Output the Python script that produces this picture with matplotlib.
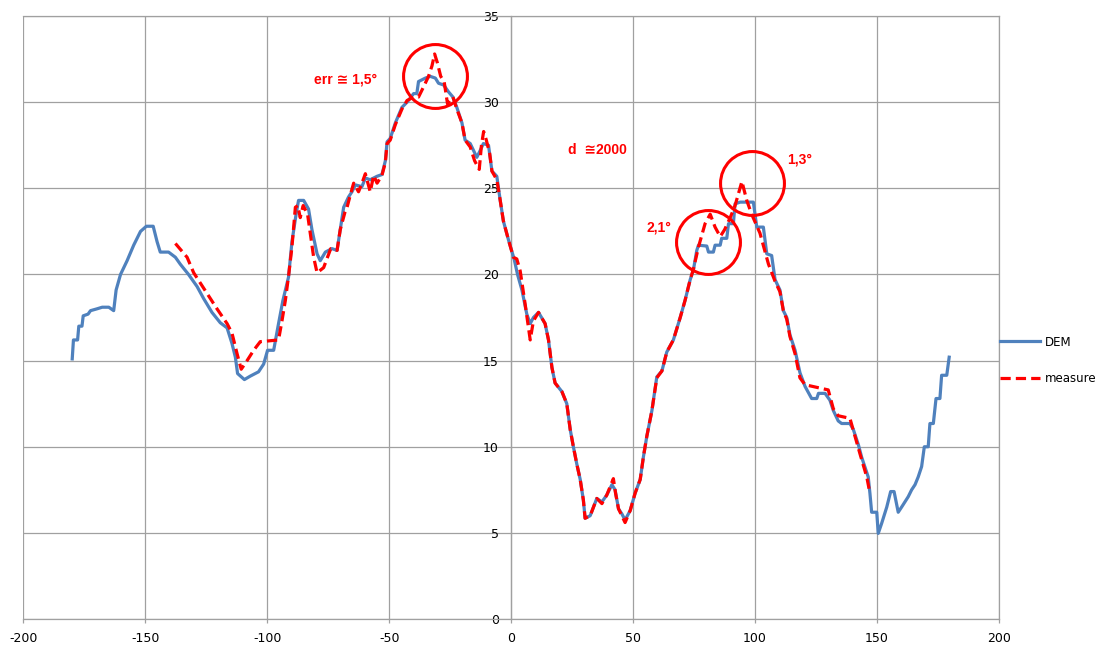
import matplotlib
matplotlib.use('Agg')
import matplotlib.pyplot as plt

plt.rcParams['axes.unicode_minus'] = False

# DEM profile (blue, stepped)
dem_x = [-180, -179.5, -177.8, -177.3, -176, -175.5, -173.5, -172.5, -170, -167.7, -165, -163, -162,
         -160.2, -157.5, -154.8, -152, -149.6, -146.8, -145.2, -143.9, -140.5, -137.7, -135.7, -132.3,
         -128.8, -126.1, -122.7, -119.3, -116.5, -114.5, -113.1, -112.2, -109.4, -107, -103.6, -101.5,
         -99.9, -97.4, -95.4, -93.6, -91.3, -89.9, -88.2, -87.2, -85.1, -83.1, -81.7, -79.6, -78.3,
         -76.2, -73.5, -71.4, -70.1, -68.7, -66.7, -65.3, -63.9, -61.2, -59.8, -57.8, -55, -53, -51.6,
         -50.9, -49.6, -47.5, -44.8, -42.7, -40, -38.7, -38, -35.2, -33.2, -31.1, -29.8, -27.7, -25.7,
         -23.9, -22.3, -20.2, -18.9, -16.8, -14.1, -12.7, -11.4, -9.3, -7.9, -5.9, -4.5, -3.2, -1.1,
         1.2, 2.6, 4.4, 6.4, 7.8, 9.1, 11.2, 13.9, 15.3, 16.7, 18.0, 20.8, 22.8, 24.2, 25.5, 26.9, 28.3,
         29.6, 30.3, 32.4, 35.1, 37.2, 39.2, 41.3, 42.6, 44.0, 45.4, 46.7, 48.8, 50.8, 52.9, 54.2, 55.6,
         57.7, 59.7, 61.8, 63.8, 66.5, 69.3, 71.3, 73.4, 74.7, 76.1, 76.8, 80.2, 80.9, 82.9, 83.6, 85.7,
         86.3, 88.4, 89.1, 91.1, 91.8, 93.9, 99.3, 100.7, 103.4, 104.8, 106.8, 108.2, 110.2, 111.6, 113,
         114.3, 116.4, 118.4, 120.5, 123.2, 125.3, 126, 128.7, 130.7, 132.1, 134.1, 135.5, 138.9, 140.3,
         142.4, 143.7, 145.1, 146.4, 147.1, 147.8, 149.9, 150.5, 151.9, 154, 155.6, 157, 158.7, 160.1,
         162.8, 164.2, 165.6, 166.9, 168.3, 169.4, 171, 171.7, 173.1, 174.2, 175.8, 176.5, 178.6, 179.6]
dem_y = [15.1, 16.2, 16.2, 17.0, 17.0, 17.6, 17.7, 17.9, 18.0, 18.1, 18.1, 17.9, 19.1,
         20.0, 20.8, 21.7, 22.5, 22.8, 22.8, 21.9, 21.3, 21.3, 21.0, 20.6, 20.0,
         19.3, 18.6, 17.8, 17.2, 16.9, 16.0, 15.2, 14.25, 13.9, 14.1, 14.35, 14.8,
         15.6, 15.6, 17.15, 18.5, 19.85, 21.9, 23.5, 24.3, 24.3, 23.8, 22.6, 21.2, 20.8,
         21.3, 21.5, 21.4, 22.6, 23.9, 24.5, 24.8, 25.2, 25.1, 25.6, 25.5, 25.7, 25.8, 26.6,
         27.7, 27.9, 28.8, 29.7, 30.0, 30.5, 30.5, 31.2, 31.4, 31.5, 31.4, 31.1, 31.0, 30.6,
         30.3, 29.7, 28.8, 27.8, 27.6, 26.8, 27.2, 27.6, 27.5, 26.0, 25.7, 24.3, 23.1, 22.0,
         20.9, 20.0, 19.1, 17.7, 17.15, 17.5, 17.8, 17.15, 16.2, 14.6, 13.7, 13.2, 12.5, 11.0, 10.0, 9.0, 8.1,
         6.9, 5.85, 6.0, 7.0, 6.8, 7.2, 7.8, 7.5, 6.4, 6.1, 5.75, 6.3, 7.3, 8.1, 9.4, 10.6,
         12.1, 14.05, 14.4, 15.5, 16.2, 17.5, 18.5, 19.7, 20.25, 21.4, 21.7, 21.65, 21.3, 21.3, 21.7, 21.7,
         22.1, 22.1, 22.95, 22.95, 24.1, 24.2, 24.2, 22.75, 22.75, 21.2, 21.1, 19.7, 19.1, 17.9, 17.5,
         16.5, 15.6, 14.3, 13.5, 12.8, 12.8, 13.1, 13.1, 12.7, 12.1, 11.5, 11.35, 11.35, 11.0,
         10.1, 9.4, 8.8, 8.25, 7.3, 6.2, 6.2, 4.97, 5.55, 6.5, 7.4, 7.4, 6.2, 6.5,
         7.1, 7.5, 7.8, 8.25, 8.85, 10.0, 10.0, 11.35, 11.35, 12.8, 12.8, 14.15, 14.15, 15.2]

# measured profile (red, dashed)
meas_x = [-137.7, -132.9, -130.2, -126.1, -120.6, -116.5, -114.5, -112.4, -110.7, -108.3, -105.6, -102.9,
          -95.4, -94.0, -92.6, -91.3, -89.9, -88.5, -87.5, -86.5, -85.3, -83.5, -82, -81, -79.6, -76.9,
          -74, -71.4, -70.1, -68.2, -67.3, -66, -64.6, -62.6, -61.2, -59.8, -57.8, -56.4, -55, -53, -51.6,
          -50.9, -49.6, -47.5, -44.8, -42.7, -40, -38, -35.9, -33.9, -32.5, -31.4, -30.3, -28.9, -27.5,
          -26.1, -23.9, -22.3, -20.2, -18.9, -16.8, -15, -13.1, -12.2, -11.3, -10.2, -8.8, -7.9, -5.9,
          -4.5, -3.2, -1.1, 0.9, 2.3, 3.7, 5.7, 7.8, 9.1, 11.2, 13.9, 15.3, 16.7, 18.0, 20.8, 22.8, 24.2,
          25.5, 26.9, 28.3, 29.6, 30.3, 32.4, 35.1, 37.2, 39.2, 41.9, 42.8, 44.0, 46.7, 48.8, 50.8, 52.9,
          54.2, 55.6, 57.7, 59.7, 61.8, 63.8, 66.5, 69.3, 71.3, 73.4, 74.7, 76.8, 79.5, 81.6, 83.6, 85.7,
          87.5, 89.8, 91.8, 94.6, 96.6, 98.6, 102.0, 105.5, 108.2, 110.2, 111.6, 113, 114.3, 116.4, 118.4,
          120.5, 130, 132.1, 134.1, 138.9, 141, 143, 145.8, 147.1]
meas_y = [21.8, 21.0, 20.1, 19.2, 18.0, 17.15, 16.6, 15.4, 14.5, 15.0, 15.6, 16.1,
          16.2, 17.3, 18.5, 19.9, 21.6, 23.9, 24.0, 23.3, 24.0, 23.5, 22.0, 21.0, 20.1, 20.4,
          21.5, 21.4, 22.6, 23.6, 23.9, 24.6, 25.3, 24.8, 25.3, 25.85, 24.8, 25.75, 25.3, 25.75, 26.5,
          27.6, 27.8, 28.7, 29.6, 30.1, 30.3, 30.3, 30.9, 31.5, 32.1, 32.8, 32.3, 31.5, 31.2,
          29.9, 30.3, 29.6, 28.8, 27.8, 27.4, 26.6, 26.1, 27.5, 28.3, 27.8, 27.0, 26.0, 25.5,
          24.3, 23.1, 22.0, 21.0, 20.9, 20.2, 18.3, 16.2, 17.3, 17.8, 17.15, 16.2, 14.6, 13.7, 13.2, 12.5, 11.0,
          10.0, 9.0, 8.1, 6.9, 5.85, 6.0, 7.0, 6.7, 7.2, 8.15, 7.3, 6.4, 5.6, 6.3, 7.3, 8.1,
          9.4, 10.6, 12.1, 14.0, 14.4, 15.5, 16.2, 17.5, 18.5, 19.7, 20.3, 21.6, 22.95, 23.5, 22.75, 22.2,
          22.6, 23.3, 24.0, 25.4, 24.3, 23.5, 22.4, 20.6, 19.6, 19.0, 17.9, 17.4, 16.4, 15.4, 14.0,
          13.6, 13.3, 12.2, 11.8, 11.65, 10.6, 9.6, 8.25, 7.3]

# annotation circles and labels
circle_x = [-31.4, 80.5, 98.6]
circle_y = [31.5, 21.9, 25.3]
notes = ['err \u2245 1,5\u00b0', 'd  \u22452000', '2,1\u00b0', '1,3\u00b0']
note_x = [-80.7, 23.2, 55.6, 113.1]
note_y = [31.3, 27.2, 22.75, 26.7]

fig = plt.figure(figsize=(11.01, 6.53), dpi=100)
ax = fig.add_axes([0.0213, 0.052, 0.886, 0.9234])

grid_c = '#a0a0a0'
ax.plot(dem_x, dem_y, color='#4f81bd', lw=2.3, label='DEM', zorder=3)
ax.plot(meas_x, meas_y, color='#ff0000', lw=2.3, ls=(0, (3.2, 1.6)), label='measure', zorder=4)
ax.plot(circle_x, circle_y, 'o', ms=46, mfc='none', mec='#ff0000', mew=2.2, zorder=5)

for t, x, y in zip(notes, note_x, note_y):
    ax.text(x, y, t, color='#ff0000', fontsize=10, fontweight='bold',
            family=['Liberation Sans', 'DejaVu Sans'], va='center', ha='left')

ax.set_xlim(-200, 200)
ax.set_ylim(0, 35)
ax.set_xticks(range(-200, 201, 50))
ax.set_yticks(range(0, 36, 5))
ax.grid(True, color=grid_c, lw=0.9)
ax.set_axisbelow(True)

for s in ax.spines.values():
    s.set_color(grid_c)
    s.set_linewidth(0.9)
ax.spines['left'].set_position(('data', 0))

ax.tick_params(axis='both', colors=grid_c, labelcolor='black', labelsize=9, width=0.9)
ax.tick_params(axis='x', length=3, pad=6)
ax.tick_params(axis='y', length=0, pad=9)

ax.legend(loc='center left', bbox_to_anchor=(1.0, 0.429), frameon=False, fontsize=8.5,
          handlelength=3.4, handletextpad=0.4, labelspacing=2.0, borderaxespad=0.05, borderpad=0)

fig.savefig('out.png', dpi=100)
